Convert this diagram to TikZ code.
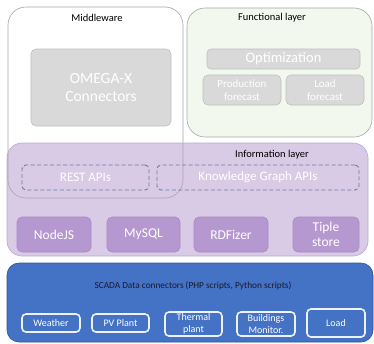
\documentclass[tikz,border=0pt]{standalone}
\usepackage{fontspec}
\setmainfont{Carlito}
\definecolor{edgegray}{HTML}{A6A6A6}
\definecolor{funcfill}{HTML}{F3F8EE}
\definecolor{infofill}{HTML}{D9CAE6}
\definecolor{infoedge}{HTML}{BBA6D2}
\definecolor{purplebox}{HTML}{B598CF}
\definecolor{purpleedge}{HTML}{A68BC3}
\definecolor{greyfill}{HTML}{D9D9D9}
\definecolor{greyedge}{HTML}{BFBFBF}
\definecolor{dashblue}{HTML}{6B7BA3}
\definecolor{scadafill}{HTML}{4472C4}
\definecolor{scadaedge}{HTML}{2F5597}
\definecolor{labeldark}{HTML}{1A1A2E}
\definecolor{scadaline}{HTML}{EEF3FB}
\tikzset{
  layer/.style={rounded corners=18pt, line width=0.6pt, inner sep=0pt},
  greybox/.style={draw=greyedge, fill=greyfill, rounded corners=5pt, text=white, align=center, inner sep=0pt, line width=0.6pt},
  dashbox/.style={draw=dashblue, dashed, dash pattern=on 4pt off 2.5pt, rounded corners=4pt, text=white, align=center, inner sep=0pt, line width=0.9pt, font=\fontsize{13}{15}\selectfont},
  purplebox/.style={draw=purpleedge, fill=purplebox, rounded corners=5pt, text=white, align=center, inner sep=0pt, line width=0.6pt, minimum height=35pt, font=\fontsize{13.5}{16}\selectfont},
  scadabox/.style={draw=scadaline, fill=scadafill, rounded corners=4pt, text=white, align=center, inner sep=0pt, line width=1.6pt, font=\fontsize{10}{11.5}\selectfont},
  lbl/.style={inner sep=0pt, font=\fontsize{10.5}{12}\selectfont, text=black}
}
\begin{document}
\begin{tikzpicture}[x=1pt,y=-1pt]
\useasboundingbox (0,0) rectangle (374,343);
% Middleware background
\node[layer, fill=white, minimum width=175pt, minimum height=191pt] (mwbg) at (95.5,102.5) {};
% Functional layer
\node[layer, draw=edgegray, fill=funcfill, minimum width=185pt, minimum height=129pt] (func) at (279.5,72.5) {};
% Information layer
\node[layer, rounded corners=15pt, draw=infoedge, fill=infofill, minimum width=361pt, minimum height=113pt] (info) at (187.5,199.5) {};
% Middleware outline on top
\node[layer, draw=edgegray, minimum width=175pt, minimum height=191pt] (mw) at (95.5,102.5) {};
% SCADA
\node[layer, rounded corners=12pt, draw=scadaedge, fill=scadafill, minimum width=366pt, minimum height=79pt] (scada) at (190,302.5) {};

% Labels
\node[lbl] (mwlbl) at (97,18) {Middleware};
\node[lbl] (funclbl) at (272,18) {Functional layer};
\node[lbl] (infolbl) at (272,155) {Information layer};
\node[lbl, text=labeldark, font=\fontsize{9.3}{11}\selectfont] (scadalbl) at (193,286) {SCADA Data connectors (PHP scripts, Python scripts)};

% Middleware content
\node[greybox, minimum width=140pt, minimum height=77pt, font=\fontsize{15.5}{18}\selectfont] (omega) at (101,87.5) {OMEGA-X\\Connectors};

% Functional content
\node[greybox, rounded corners=4pt, minimum width=153pt, minimum height=20pt, font=\fontsize{14.5}{16}\selectfont] (opt) at (283.5,59) {Optimization};
\node[greybox, minimum width=78pt, minimum height=30pt, font=\fontsize{11}{13}\selectfont] (prod) at (242,90) {Production\\forecast};
\node[greybox, minimum width=78pt, minimum height=30pt, font=\fontsize{11}{13}\selectfont] (loadf) at (325,90) {Load\\forecast};

% Information content
\node[dashbox, minimum width=127pt, minimum height=25pt] (rest) at (85.5,177.5) {REST APIs};
\node[dashbox, minimum width=202pt, minimum height=25pt] (kg) at (258,177.5) {Knowledge Graph APIs};
\node[purplebox, minimum width=74pt] (nodejs) at (54,234.5) {NodeJS};
\node[purplebox, minimum width=73pt] (mysql) at (143.5,234.5) {MySQL};
\node[purplebox, minimum width=74pt] (rdf) at (231,234.5) {RDFizer};
\node[purplebox, minimum width=66pt, font=\fontsize{13.5}{15.5}\selectfont] (tiple) at (326,234.5) {Tiple\\store};

% SCADA content
\node[scadabox, minimum width=58pt, minimum height=18pt] (weather) at (51,323) {Weather};
\node[scadabox, minimum width=57pt, minimum height=18pt] (pv) at (120.5,323) {PV Plant};
\node[scadabox, minimum width=57pt, minimum height=24pt] (thermal) at (193.5,324) {Thermal\\plant};
\node[scadabox, minimum width=58pt, minimum height=24pt] (build) at (266,324) {Buildings\\Monitor.};
\node[scadabox, minimum width=58pt, minimum height=28pt] (load) at (336,323) {Load};
\end{tikzpicture}
\end{document}
